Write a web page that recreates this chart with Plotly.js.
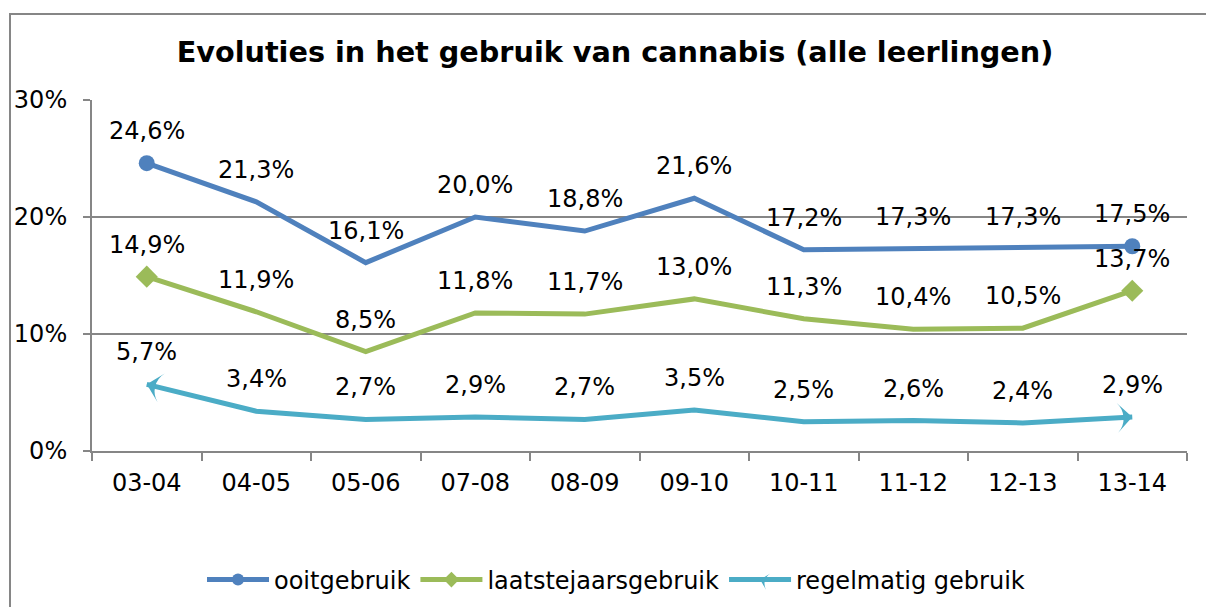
<!DOCTYPE html>
<html>
<head>
<meta charset="utf-8">
<script src="https://cdn.plot.ly/plotly-3.0.1.min.js"></script>
<style>
  html, body { margin: 0; padding: 0; background: #fff; }
  #wrap { position: relative; width: 1206px; height: 607px; overflow: hidden; }
  #chart { position: absolute; left: 0; top: 0; width: 1206px; height: 607px; }
  #frame { position: absolute; left: 9px; top: 13px; width: 1210px; height: 620px;
           border: 2px solid #868686; pointer-events: none; box-sizing: border-box; }
</style>
</head>
<body>
<div id="wrap">
  <div id="chart"></div>
  <div id="frame"></div>
</div>
<script>
const categories = ["03-04", "04-05", "05-06", "07-08", "08-09", "09-10", "10-11", "11-12", "12-13", "13-14"];
const ooitgebruik = [24.6, 21.3, 16.1, 20.0, 18.8, 21.6, 17.2, 17.3, 17.3, 17.5];
const laatstejaarsgebruik = [14.9, 11.9, 8.5, 11.8, 11.7, 13.0, 11.3, 10.4, 10.5, 13.7];
const regelmatigGebruik = [5.7, 3.4, 2.7, 2.9, 2.7, 3.5, 2.5, 2.6, 2.4, 2.9];
const seriesNames = ["ooitgebruik", "laatstejaarsgebruik", "regelmatig gebruik"];
const yTickVals = [0, 10, 20, 30];
const yTickText = ["0%", "10%", "20%", "30%"];
const chartTitle = "Evoluties in het gebruik van cannabis (alle leerlingen)";

const FONT = "DejaVu Sans, Verdana, sans-serif";
const FS = 24;
const colors = ["#4F81BD", "#9BBB59", "#4BACC6"];
const fmt = v => v.toFixed(1).replace(".", ",") + "%";
const n = categories.length;
const endsOnly = (a, b) => categories.map((_, i) => (i === 0 || i === n - 1) ? a : b);

const traces = [
  {
    x: categories, y: ooitgebruik, name: seriesNames[0], type: "scatter", mode: "lines+markers",
    line: { color: colors[0], width: 5 },
    marker: { color: colors[0], symbol: "circle", size: endsOnly(16, 0), opacity: 1, line: { width: 0 } }
  },
  {
    x: categories, y: laatstejaarsgebruik, name: seriesNames[1], type: "scatter", mode: "lines+markers",
    line: { color: colors[1], width: 5 },
    marker: { color: colors[1], symbol: "diamond", size: endsOnly(17, 0), opacity: 1, line: { width: 0 } }
  },
  {
    x: categories, y: regelmatigGebruik, name: seriesNames[2], type: "scatter", mode: "lines+markers",
    line: { color: colors[2], width: 5 },
    marker: { color: colors[2], symbol: "arrow-wide", size: endsOnly(21, 0), opacity: 1, line: { width: 0 },
              angle: categories.map((_, i) => i === 0 ? -76 : (i === n - 1 ? 87 : 0)) }
  }
];

const annotations = [];
[ooitgebruik, laatstejaarsgebruik, regelmatigGebruik].forEach(arr => {
  arr.forEach((v, i) => {
    annotations.push({
      x: categories[i], y: v, xref: "x", yref: "y", text: fmt(v),
      showarrow: false, yshift: 32, xanchor: "center", yanchor: "middle",
      font: { family: FONT, size: FS, color: "#000" }
    });
  });
});

const layout = {
  width: 1206, height: 607,
  margin: { l: 92, r: 19, t: 100, b: 156 },
  paper_bgcolor: "#fff", plot_bgcolor: "#fff",
  font: { family: FONT, size: FS, color: "#000" },
  title: {
    text: "<b>" + chartTitle + "</b>",
    font: { family: FONT, size: 28.7, color: "#000" },
    xref: "container", x: 615 / 1206, xanchor: "center",
    yref: "container", y: 1 - 52 / 607, yanchor: "middle"
  },
  xaxis: {
    type: "category", range: [-0.5, n - 0.5],
    showline: true, linecolor: "#868686", linewidth: 2,
    ticks: "outside", tickson: "boundaries", ticklen: 8, tickcolor: "#868686", tickwidth: 2,
    showgrid: false, zeroline: false, ticklabelstandoff: 9,
    tickfont: { family: FONT, size: FS, color: "#000" }
  },
  yaxis: {
    range: [0, 30], tickvals: yTickVals, ticktext: yTickText,
    showline: true, linecolor: "#868686", linewidth: 2,
    ticks: "outside", ticklen: 7, tickcolor: "#868686", tickwidth: 2,
    showgrid: true, gridcolor: "#868686", gridwidth: 2, zeroline: false,
    ticklabelstandoff: 11,
    tickfont: { family: FONT, size: FS, color: "#000" }
  },
  showlegend: true,
  legend: {
    orientation: "h", xref: "container", yref: "container",
    x: 616 / 1206, xanchor: "center", y: 1 - 580 / 607, yanchor: "middle",
    font: { family: FONT, size: FS, color: "#000" },
    itemsizing: "constant", itemwidth: 62, tracegroupgap: 0
  },
  annotations: annotations
};

Plotly.newPlot("chart", traces, layout, { displayModeBar: false, staticPlot: true });
</script>
</body>
</html>
